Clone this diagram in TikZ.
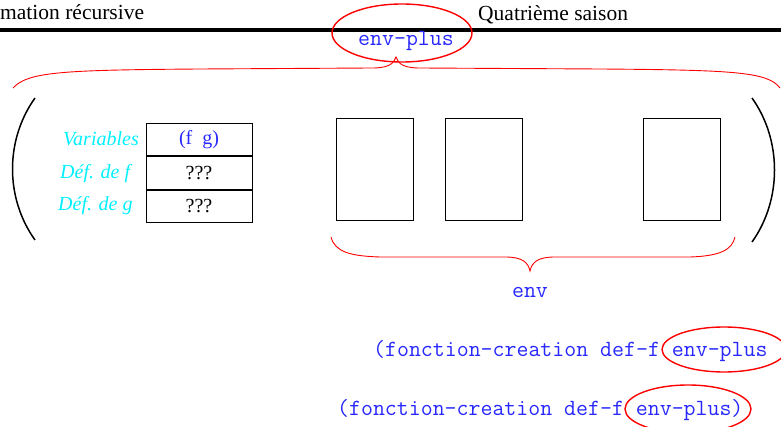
\documentclass[tikz,border=0pt]{standalone}
\usepackage{fontspec}
\setmainfont{Liberation Serif}
\usetikzlibrary{shapes.geometric}
\definecolor{codeblue}{RGB}{40,40,255}
\definecolor{labcyan}{RGB}{0,240,255}
\begin{document}
\begin{tikzpicture}[x=1pt,y=-1pt,
  header/.style={inner sep=0pt,font=\fontsize{21.5}{24}\selectfont},
  code/.style={inner sep=0pt,text=codeblue,font=\fontsize{23.2}{26}\selectfont\ttfamily},
  lab/.style={inner sep=0pt,text=labcyan,font=\fontsize{20}{24}\selectfont\itshape},
  cell/.style={draw,line width=0.9pt,minimum width=106pt,minimum height=32.5pt,inner sep=0pt,
    font=\fontsize{20}{24}\selectfont},
  frame/.style={draw,line width=0.9pt,minimum width=77pt,minimum height=102pt,inner sep=0pt},
  ring/.style={draw=red,line width=1.4pt,ellipse,inner sep=0pt},
  brace/.style={draw=red,line width=0.9pt},
  paren/.style={draw,line width=1.5pt}]
\useasboundingbox (0,0) rectangle (781,427);

% page header
\node[header,anchor=base west] (h1) at (0,20) {mation récursive};
\node[header,anchor=base west] (h2) at (478,21) {Quatrième saison};
\draw[line width=3.5pt] (0,30) -- (781,30);

% extended environment label
\node[code,anchor=base] (ep) at (406,46) {env-plus};
\node[ring,minimum width=140pt,minimum height=58pt] (epring) at (402,33) {};

% upper brace
\path[brace] (13,88) .. controls (28,72) and (60,70) .. (200,69) -- (372,68)
  .. controls (388,68) and (394,64) .. (396,57)
  .. controls (398,64) and (404,68) .. (420,68) -- (600,69)
  .. controls (735,70) and (768,72) .. (780,88);

% parentheses
\path[paren] (35,98) .. controls (5,140) and (5,198) .. (35,240);
\path[paren] (752,98) .. controls (782,140) and (782,200) .. (752,242);

% new frame: variables and definitions
\node[cell,text=codeblue] (c1) at (199,139.5) {(f\ \ g)};
\node[cell,anchor=north] (c2) at (c1.south) {???};
\node[cell,anchor=north] (c3) at (c2.south) {???};
\node[lab,anchor=base west] (l1) at (63,146) {Variables};
\node[lab,anchor=base west] (l2) at (60,179) {Déf. de f};
\node[lab,anchor=base west] (l3) at (58,211) {Déf. de g};

% frames of the enclosing environment
\node[frame] (f1) at (374.5,169.5) {};
\node[frame] (f2) at (483.5,169.5) {};
\node[frame] (f3) at (681.5,169.5) {};

% lower brace
\path[brace] (331,237) .. controls (335,252) and (350,256) .. (380,257) -- (505,257)
  .. controls (522,257) and (528,262) .. (530,271)
  .. controls (532,262) and (538,257) .. (555,257) -- (690,257)
  .. controls (720,256) and (732,250) .. (735,237);
\node[code,anchor=base] (env) at (530,298) {env};

% closure creation calls
\node[code,anchor=base west] (call1) at (373,356) {(fonction-creation def-f env-plus};
\node[ring,minimum width=124pt,minimum height=45pt] (ring1) at (724,349.5) {};
\node[code,anchor=base west] (call2) at (337,415) {(fonction-creation def-f env-plus)};
\node[ring,minimum width=126pt,minimum height=48pt] (ring2) at (688,409) {};
\end{tikzpicture}
\end{document}
